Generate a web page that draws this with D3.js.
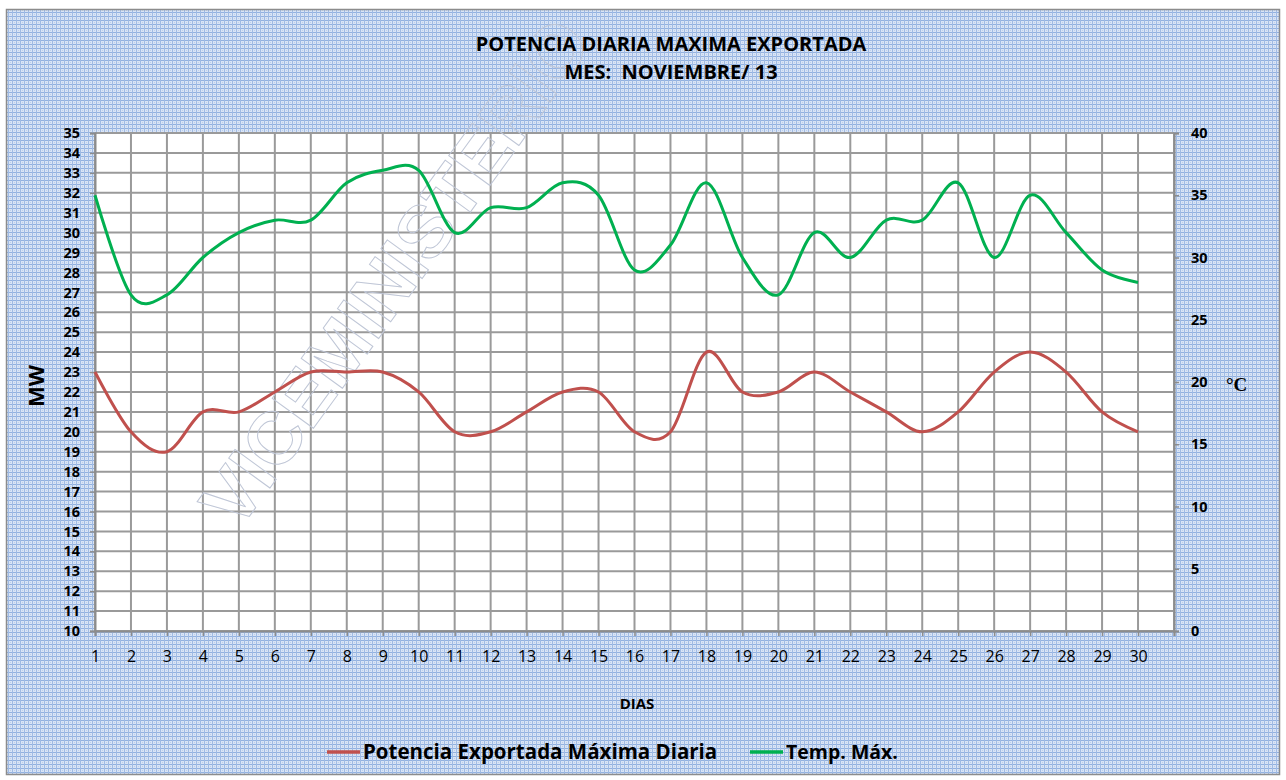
<!DOCTYPE html>
<html><head><meta charset="utf-8">
<script src="https://cdn.jsdelivr.net/npm/d3@7"></script>
<style>body{margin:0;background:#fff}svg{display:block}</style>
</head><body>
<svg id="c" width="1286" height="780"></svg>
<script>
const days = d3.range(1, 31);
const potencia = [23,20,19,21,21,22,23,23,23,22,20,20,21,22,22,20,20,24,22,22,23,22,21,20,21,23,24,23,21,20];
const tempMax = [35,27,27,30,32,33,33,36,37,37,32,34,34,36,35,29,31,36,30,27,32,30,33,33,36,30,35,32,29,28];
const leftTicks = d3.range(10, 36);
const rightTicks = d3.range(0, 41, 5);
const titleLines = ["POTENCIA DIARIA MAXIMA EXPORTADA", "MES:  NOVIEMBRE/ 13"];
const seriesNames = ["Potencia Exportada Máxima Diaria", "Temp. Máx."];
const colors = ["#c0504d", "#00b050"];

const svg = d3.select("#c");
const defs = svg.append("defs");
const pat = defs.append("pattern").attr("id","bg").attr("width",4).attr("height",4).attr("patternUnits","userSpaceOnUse");
pat.append("rect").attr("width",4).attr("height",4).attr("fill","#d9e4f5");
pat.append("rect").attr("x",0).attr("y",0).attr("width",4).attr("height",1).attr("fill","#92b1e0");
pat.append("rect").attr("x",0).attr("y",0).attr("width",1).attr("height",4).attr("fill","#a0bbe4");
pat.append("rect").attr("x",2).attr("y",2).attr("width",1).attr("height",1).attr("fill","#bccfec");

svg.append("rect").attr("x",6.5).attr("y",9.5).attr("width",1273).attr("height",765)
  .attr("fill","url(#bg)").attr("stroke","#8c8c8c").attr("stroke-width",1.5);

const L = 95, R = 1174, T = 133, B = 631;
const x = d3.scaleLinear().domain([1,31]).range([L,R]);
const yL = d3.scaleLinear().domain([10,35]).range([B,T]);
const yR = d3.scaleLinear().domain([0,40]).range([B,T]);

svg.append("rect").attr("x",L).attr("y",T).attr("width",R-L).attr("height",B-T).attr("fill","#fff");

// gridlines
const g = svg.append("g").attr("stroke","#9a9a9a").attr("stroke-width",2);
g.selectAll("line.h").data(leftTicks).join("line").attr("x1",L).attr("x2",R)
  .attr("y1",d=>yL(d)).attr("y2",d=>yL(d));
g.selectAll("line.v").data(d3.range(1,32)).join("line").attr("y1",T).attr("y2",B)
  .attr("x1",d=>x(d)).attr("x2",d=>x(d));

// watermark
svg.append("text").attr("transform","translate(238,532) rotate(-54)")
  .attr("font-family","Liberation Sans, Arial, sans-serif").attr("font-size",74).attr("font-weight","bold")
  .attr("fill","none").attr("stroke","#bfc6d6").attr("stroke-width",1)
  .text("VICEMINISTERIO");

// axes
const fontB = "Open Sans, Liberation Sans, sans-serif";
const axL = svg.append("g").attr("transform",`translate(${L},0)`)
  .call(d3.axisLeft(yL).tickValues(leftTicks).tickSize(5).tickPadding(10));
const axR = svg.append("g").attr("transform",`translate(${R},0)`)
  .call(d3.axisRight(yR).tickValues(rightTicks).tickSize(5).tickPadding(12));
const axB = svg.append("g").attr("transform",`translate(0,${B})`)
  .call(d3.axisBottom(x).tickValues(d3.range(1,32)).tickFormat(d=>d<=30?d:"").tickSize(5).tickPadding(15));
[axL,axR,axB].forEach(a=>{
  a.selectAll(".domain").attr("stroke","#8c8c8c").attr("stroke-width",2);
  a.selectAll(".tick line").attr("stroke","#8c8c8c").attr("stroke-width",1.5);
  a.selectAll("text").attr("fill","#000").attr("font-family",fontB);
});
axL.selectAll("text").attr("font-size",14.5).attr("font-weight","bold");
axR.selectAll("text").attr("font-size",14.5).attr("font-weight","bold");
axB.selectAll("text").attr("font-size",16);

// lines
const line = (ys)=> d3.line().x((d,i)=>x(days[i])).y(d=>ys(d)).curve(d3.curveCatmullRom.alpha(0));
svg.append("path").datum(potencia).attr("d",line(yL)).attr("fill","none")
  .attr("stroke",colors[0]).attr("stroke-width",3).attr("stroke-linejoin","round");
svg.append("path").datum(tempMax).attr("d",line(yR)).attr("fill","none")
  .attr("stroke",colors[1]).attr("stroke-width",3).attr("stroke-linejoin","round");

// titles
svg.selectAll("text.title").data(titleLines).join("text").attr("class","title")
  .attr("x",671).attr("y",(d,i)=>51+i*28).attr("text-anchor","middle")
  .attr("font-family",fontB).attr("font-weight","bold").attr("font-size",20)
  .attr("xml:space","preserve").style("white-space","pre").text(d=>d);

svg.append("text").attr("transform","translate(44,386) rotate(-90)").attr("text-anchor","middle")
  .attr("font-family",fontB).attr("font-weight","bold").attr("font-size",22).text("MW");
svg.append("text").attr("x",1226).attr("y",391)
  .attr("font-family","Liberation Serif, Times New Roman, serif").attr("font-weight","bold").attr("font-size",19).text("°C");
svg.append("text").attr("x",637).attr("y",709).attr("text-anchor","middle")
  .attr("font-family",fontB).attr("font-weight","bold").attr("font-size",15).text("DIAS");

// legend
const legX = [327, 750];
const lg = svg.selectAll("g.leg").data(seriesNames).join("g").attr("class","leg")
  .attr("transform",(d,i)=>`translate(${legX[i]},752)`);
lg.append("line").attr("x1",0).attr("x2",33).attr("y1",0).attr("y2",0)
  .attr("stroke",(d,i)=>colors[i]).attr("stroke-width",3.5);
lg.append("text").attr("x",36).attr("y",7).attr("font-family",fontB).attr("font-weight","bold")
  .attr("font-size",(d,i)=>i===1?19.5:20.5).text(d=>d);
</script>
</body></html>
